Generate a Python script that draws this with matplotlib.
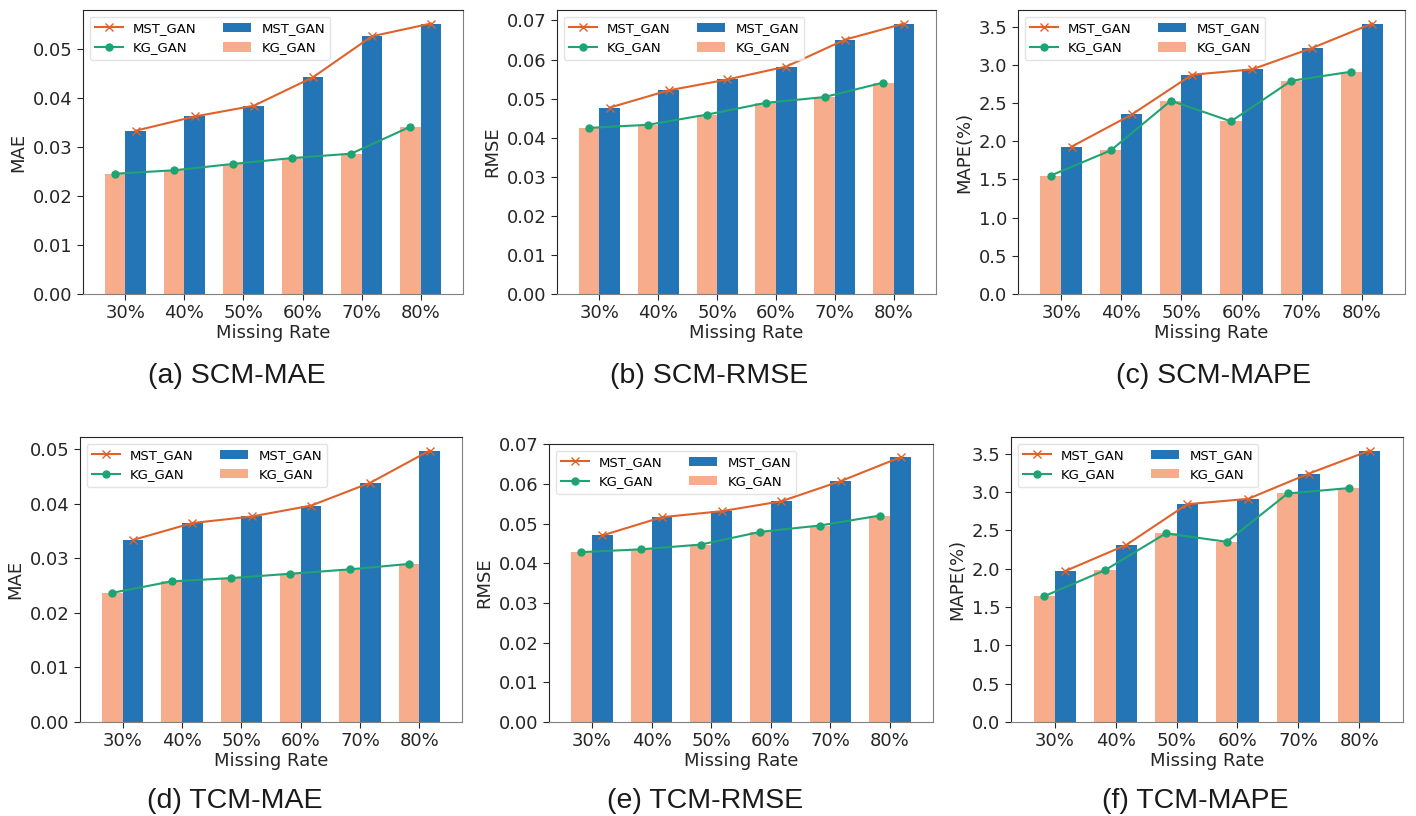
import matplotlib.pyplot as plt
from matplotlib.ticker import MultipleLocator, FormatStrFormatter
import numpy as np

rates = ["30%", "40%", "50%", "60%", "70%", "80%"]

# SCM panels
scm_mae_mst = [0.0334, 0.0363, 0.0385, 0.0443, 0.0527, 0.0553]
scm_mae_kg = [0.0246, 0.0253, 0.0266, 0.0278, 0.0287, 0.0342]
scm_rmse_mst = [0.0477, 0.0521, 0.0549, 0.0582, 0.0651, 0.0692]
scm_rmse_kg = [0.0425, 0.0433, 0.0459, 0.0489, 0.0504, 0.0541]
scm_mape_mst = [1.93, 2.35, 2.87, 2.94, 3.22, 3.54]
scm_mape_kg = [1.55, 1.88, 2.53, 2.26, 2.79, 2.91]

# TCM panels
tcm_mae_mst = [0.0334, 0.0365, 0.0377, 0.0397, 0.0439, 0.0498]
tcm_mae_kg = [0.0237, 0.0258, 0.0264, 0.0272, 0.0280, 0.0290]
tcm_rmse_mst = [0.0470, 0.0516, 0.0531, 0.0556, 0.0607, 0.0667]
tcm_rmse_kg = [0.0428, 0.0435, 0.0447, 0.0479, 0.0495, 0.0520]
tcm_mape_mst = [1.97, 2.31, 2.84, 2.91, 3.24, 3.54]
tcm_mape_kg = [1.64, 1.98, 2.46, 2.35, 2.98, 3.05]

BLUE = "#2475b5"
SALMON = "#f7ac8b"
ORANGE = "#e0622b"
GREEN = "#1fa372"


def draw_panel(ax, mst, kg, ylabel, fmt, step):
    x = np.arange(len(rates))
    w = 0.35
    l1, = ax.plot(x + w / 2, mst, color=ORANGE, marker="x", markersize=6, lw=1.5, zorder=3)
    l2, = ax.plot(x - w / 2, kg, color=GREEN, marker="o", markersize=5, lw=1.5, zorder=3)
    b1 = ax.bar(x + w / 2, mst, w, color=BLUE, zorder=1)
    b2 = ax.bar(x - w / 2, kg, w, color=SALMON, zorder=1)
    ax.set_xticks(x)
    ax.set_xticklabels(rates)
    ax.set_xlim(-0.72, 5.72)
    ax.yaxis.set_major_locator(MultipleLocator(step))
    ax.yaxis.set_major_formatter(FormatStrFormatter(fmt))
    ax.tick_params(labelsize=13, colors="#262626", length=4)
    ax.set_ylabel(ylabel, fontsize=13, color="#262626")
    ax.set_xlabel("Missing Rate", fontsize=13, color="#262626", labelpad=1)
    ax.spines["left"].set_color("#262626")
    ax.spines["top"].set_color("#262626")
    ax.spines["bottom"].set_color("#808080")
    ax.spines["right"].set_color("#808080")
    leg = ax.legend([l1, l2, b1, b2], ["MST_GAN", "KG_GAN", "MST_GAN", "KG_GAN"],
                    ncol=2, loc="upper left", fontsize=9.5, frameon=True,
                    columnspacing=2.0, handlelength=2.1)
    leg.get_frame().set_edgecolor("#dddddd")


fig = plt.figure(figsize=(14.16, 8.16), dpi=100)

panels = [
    ([0.0586, 0.6397, 0.2684, 0.3480], scm_mae_mst, scm_mae_kg, "MAE", "%.2f", 0.01, "(a) SCM-MAE", 0.167, 0.539),
    ([0.3934, 0.6397, 0.2677, 0.3480], scm_rmse_mst, scm_rmse_kg, "RMSE", "%.2f", 0.01, "(b) SCM-RMSE", 0.501, 0.539),
    ([0.7189, 0.6397, 0.2733, 0.3480], scm_mape_mst, scm_mape_kg, "MAPE(%)", "%.1f", 0.5, "(c) SCM-MAPE", 0.857, 0.539),
    ([0.0565, 0.1152, 0.2698, 0.3493], tcm_mae_mst, tcm_mae_kg, "MAE", "%.2f", 0.01, "(d) TCM-MAE", 0.166, 0.018),
    ([0.3877, 0.1152, 0.2712, 0.3407], tcm_rmse_mst, tcm_rmse_kg, "RMSE", "%.2f", 0.01, "(e) TCM-RMSE", 0.498, 0.018),
    ([0.7140, 0.1152, 0.2768, 0.3493], tcm_mape_mst, tcm_mape_kg, "MAPE(%)", "%.1f", 0.5, "(f) TCM-MAPE", 0.844, 0.018),
]

for rect, mst, kg, ylabel, fmt, step, caption, cx, cy in panels:
    ax = fig.add_axes(rect)
    draw_panel(ax, mst, kg, ylabel, fmt, step)
    fig.text(cx, cy, caption, ha="center", va="center", fontsize=20.5,
             family="Liberation Sans", color="#1a1a1a")

fig.savefig("out.png", dpi=100)
